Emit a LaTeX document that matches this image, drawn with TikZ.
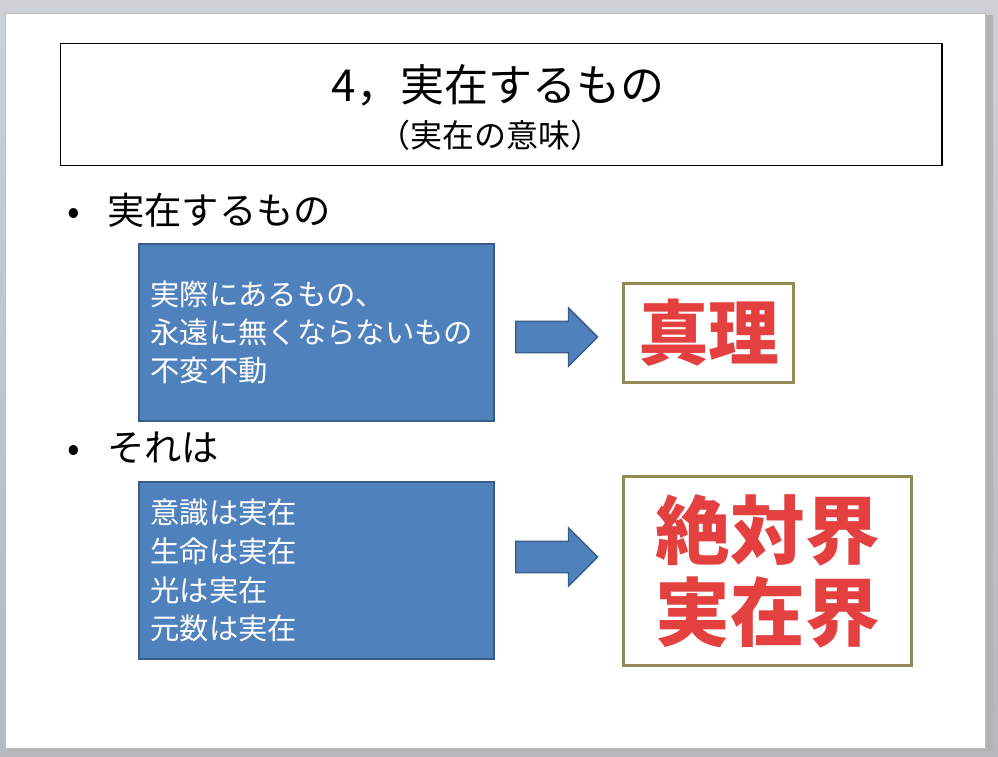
\documentclass[tikz,border=0pt]{standalone}
\usepackage{fontspec}
\setmainfont{Noto Sans CJK JP}
\usepackage{tikz}
\usetikzlibrary{
  arrows.meta,
  shapes,
  shapes.arrows,
  positioning,
  calc,
  backgrounds
}
\definecolor{slBack}{HTML}{B5B9BE}
\definecolor{slBackTop}{HTML}{CDD0D5}
\definecolor{slBlue}{HTML}{4F81BD}
\definecolor{slBlueEdge}{HTML}{385D8A}
\definecolor{slOlive}{HTML}{948A54}
\definecolor{slRed}{HTML}{E3403F}
\tikzset{
  slide/.style={fill=white, draw=black!25, line width=0.5pt},
  titlebox/.style={draw=black, line width=0.9pt, minimum width=661pt, minimum height=91.5pt, anchor=north west},
  bullet/.style={anchor=west, font=\fontsize{28}{34}\selectfont, inner sep=0pt},
  bluebox/.style={
    draw=slBlueEdge, line width=1.5pt, fill=slBlue, text=white,
    minimum width=266pt, minimum height=133pt, anchor=north west,
    inner xsep=8pt, text width=249pt, align=left,
    font=\fontsize{22}{28.5}\selectfont
  },
  blockarrow/.style={
    single arrow, draw=slBlueEdge, line width=1pt, fill=slBlue,
    minimum height=61.5pt, minimum width=42.5pt, inner ysep=11.25pt, inner xsep=0pt,
    single arrow head extend=10.1pt, anchor=west
  },
  answer/.style={
    draw=slOlive, line width=2.6pt, fill=white, text=slRed, align=center,
    anchor=north west, inner sep=0pt
  }
}
\begin{document}
\begin{tikzpicture}[x=0.75pt, y=-0.75pt]
  \useasboundingbox (0,0) rectangle (998,756);
  \shade[top color=slBackTop, bottom color=slBack] (0,0) rectangle (998,756);
  \fill[black!30] (8,15) rectangle (993,751);
  \node[slide, minimum width=735pt, minimum height=551pt, anchor=north west, inner sep=0pt] (page) at (5,13) {};

  % title
  \node[titlebox] (head) at (60,43) {};
  \node[font=\fontsize{33}{38}\selectfont] (title) at (498,85) {4，実在するもの};
  \node[font=\fontsize{24}{28}\selectfont] (subtitle) at (490,135) {（実在の意味）};

  % first row
  \node[bullet] (itemA) at (67,210) {\makebox[30pt][l]{•}実在するもの};
  \node[bluebox] (boxA) at (138,243) {実際にあるもの、\\永遠に無くならないもの\\不変不動};
  \node[blockarrow] (arrowA) at (515,337) {};
  \node[answer, minimum width=127.5pt, minimum height=74pt, font=\fontsize{53}{60}\selectfont\bfseries] (truth) at (622,282) {真理};

  % second row
  \node[bullet] (itemB) at (67,448) {\makebox[30pt][l]{•}それは};
  \node[bluebox, font=\fontsize{22}{29}\selectfont] (boxB) at (138,481) {意識は実在\\生命は実在\\光は実在\\元数は実在};
  \node[blockarrow] (arrowB) at (515,557) {};
  \node[answer, minimum width=216pt, minimum height=141.5pt, font=\fontsize{56}{61.5}\selectfont\bfseries] (world) at (622,475) {絶対界\\実在界};
\end{tikzpicture}
\end{document}
